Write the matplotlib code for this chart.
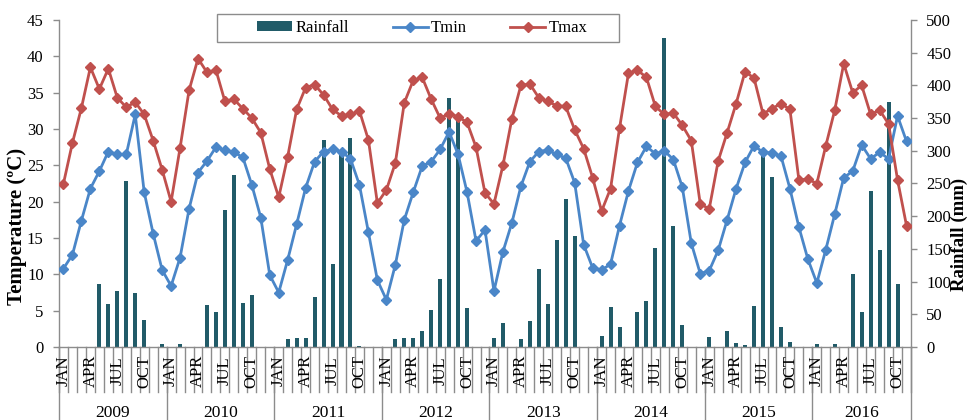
import numpy as np
import matplotlib
matplotlib.use("Agg")
import matplotlib.pyplot as plt
from matplotlib.patches import Patch, Rectangle
from matplotlib.lines import Line2D

plt.rcParams['font.family'] = ['Liberation Serif', 'DejaVu Serif']

years = ["2009", "2010", "2011", "2012", "2013", "2014", "2015", "2016"]
months = ["JAN", "FEB", "MAR", "APR", "MAY", "JUN", "JUL", "AUG", "SEP", "OCT", "NOV", "DEC"]
months_per_year = [12, 12, 12, 12, 12, 12, 12, 11]
shown_months = ["JAN", "APR", "JUL", "OCT"]

tmax = [
    22.5, 28.1, 32.9, 38.5, 35.5, 38.3, 34.3, 33.0, 33.7, 32.0, 28.4, 24.4,
    20.0, 27.4, 35.3, 39.7, 37.8, 38.1, 33.8, 34.1, 32.8, 31.5, 29.5, 24.5,
    20.6, 26.2, 32.7, 35.7, 36.1, 34.7, 32.7, 31.8, 32.0, 32.5, 28.5, 19.8,
    21.6, 25.3, 33.6, 36.7, 37.1, 34.1, 31.5, 32.1, 31.7, 30.9, 27.5, 21.2,
    19.7, 25.0, 31.4, 36.0, 36.2, 34.3, 33.8, 33.2, 33.1, 29.9, 27.3, 23.3,
    18.7, 21.8, 30.1, 37.7, 38.1, 37.1, 33.1, 32.0, 32.2, 30.5, 28.4, 19.7,
    19.0, 25.6, 29.5, 33.5, 37.9, 37.0, 32.1, 32.8, 33.5, 32.7, 23.0, 23.1,
    22.5, 27.7, 32.6, 39.0, 35.0, 36.0, 32.0, 32.6, 30.7, 23.0, 16.7,
]

tmin = [
    10.8, 12.7, 17.4, 21.8, 24.2, 26.9, 26.5, 26.5, 32.0, 21.3, 15.6, 10.6,
    8.4, 12.3, 19.0, 24.0, 25.6, 27.5, 27.1, 26.8, 26.1, 22.3, 17.8, 9.9,
    7.5, 12.0, 16.9, 21.9, 25.5, 26.9, 27.2, 26.9, 25.9, 22.3, 15.8, 9.2,
    6.5, 11.3, 17.5, 21.3, 24.9, 25.5, 27.2, 29.6, 26.5, 21.3, 14.6, 16.1,
    7.7, 13.1, 17.1, 22.1, 25.5, 26.9, 27.1, 26.5, 26.0, 22.6, 14.1, 10.9,
    10.6, 11.4, 16.7, 21.5, 25.4, 27.6, 26.6, 27.0, 25.8, 22.0, 14.3, 10.1,
    10.5, 13.3, 17.5, 21.8, 25.4, 27.7, 26.8, 26.7, 26.3, 21.8, 16.5, 12.1,
    8.8, 13.4, 18.3, 23.3, 24.2, 27.8, 25.9, 26.8, 25.9, 31.8, 28.3,
]

rainfall = [
    0, 0, 0, 0, 96, 66, 85, 254, 82, 41, 0, 5,
    0, 4, 0, 0, 64, 54, 210, 263, 67, 79, 0, 0,
    0, 12, 13, 14, 77, 317, 127, 296, 320, 1, 0, 0,
    0, 12, 13, 14, 25, 57, 104, 380, 346, 60, 0, 0,
    14, 36, 0, 12, 40, 120, 65, 164, 227, 169, 0, 0,
    17, 61, 30, 0, 54, 71, 152, 473, 185, 34, 0, 0,
    15, 0, 25, 6, 3, 63, 297, 260, 30, 8, 0, 0,
    4, 0, 4, 0, 112, 54, 238, 148, 375, 97, 0,
]

month_labels = []
year_of = []
for y, nm in zip(years, months_per_year):
    for m in months[:nm]:
        month_labels.append(m)
        year_of.append(y)

n = len(month_labels)
x = np.arange(n)

c_rain = '#215B68'
c_tmin = '#4A86C8'
c_tmax = '#C0504D'
c_axis = '#8C8C8C'

fig = plt.figure(figsize=(9.68, 4.2), dpi=100)
ax = fig.add_axes([59/968, 73/420, 852/968, 327/420])
ax2 = ax.twinx()

ax2.bar(x, rainfall, width=0.45, color=c_rain, zorder=2)
ax.plot(x, tmin, color=c_tmin, lw=2.0, marker='D', ms=5, zorder=3)
ax.plot(x, tmax, color=c_tmax, lw=2.0, marker='D', ms=5, zorder=4)

ax.set_zorder(ax2.get_zorder() + 1)
ax.patch.set_visible(False)

ax.set_xlim(-0.5, n - 0.5)
ax.set_ylim(0, 45)
ax.set_yticks(np.arange(0, 46, 5))
ax2.set_ylim(0, 500)
ax2.set_yticks(np.arange(0, 501, 50))

for a in (ax, ax2):
    a.spines['top'].set_visible(False)
    for s in a.spines.values():
        s.set_color(c_axis)
        s.set_linewidth(1.0)
ax.spines['right'].set_visible(False)
ax2.spines['left'].set_visible(False)
ax2.spines['bottom'].set_visible(False)

ax.tick_params(axis='y', direction='out', length=4, width=1, color=c_axis,
               labelsize=12, pad=7)
ax2.tick_params(axis='y', direction='out', length=4, width=1, color=c_axis,
                labelsize=12, pad=7)
ax.set_xticks([])
ax2.set_xticks([])

# Multi-level category axis
tr = ax.get_xaxis_transform()
ax_h = 327.0
for b in np.arange(n + 1) - 0.5:
    ax.plot([b, b], [0, -45 / ax_h], transform=tr, color=c_axis, lw=1.0,
            clip_on=False, zorder=1)
for i, lab in enumerate(month_labels):
    if lab in shown_months:
        ax.text(i, -24 / ax_h, lab, transform=tr, rotation=90, ha='center',
                va='center', fontsize=12)

start = 0
bounds = [-0.5]
for y, nm in zip(years, months_per_year):
    center = start + (nm - 1) / 2.0
    ax.text(center, -66 / ax_h, y, transform=tr, ha='center', va='center',
            fontsize=12.5)
    start += nm
    bounds.append(start - 0.5)
for b in bounds:
    ax.plot([b, b], [0, -75 / ax_h], transform=tr, color=c_axis, lw=1.0,
            clip_on=False, zorder=1)

fig.text(17.5 / 968, 1 - 226 / 420, 'Temperature (ºC)', rotation=90,
         ha='center', va='center', fontsize=15, fontweight='bold')
fig.text(959.5 / 968, 1 - 234 / 420, 'Rainfall (mm)', rotation=90,
         ha='center', va='center', fontsize=13.5, fontweight='bold')

# Legend frame (wider than its content, as in the reference)
frame = Rectangle(((217 - 59) / 852, (347 - 42) / 327), 402 / 852, 28 / 327,
                  transform=ax.transAxes, facecolor='white', edgecolor=c_axis,
                  lw=1.0, clip_on=False, zorder=8)
ax.add_patch(frame)

handles = [
    Patch(facecolor=c_rain, edgecolor='none'),
    Line2D([], [], color=c_tmin, lw=2.0, marker='D', ms=5),
    Line2D([], [], color=c_tmax, lw=2.0, marker='D', ms=5),
]
leg = ax.legend(handles, ['Rainfall', 'Tmin', 'Tmax'], ncol=3, loc='center',
                bbox_to_anchor=(0.4265, (347 - 28) / 327), fontsize=12,
                frameon=False, numpoints=1,
                handlelength=2.1, handleheight=0.5, handletextpad=0.2,
                columnspacing=2.6, borderpad=0.2, borderaxespad=0)
leg.set_zorder(9)

fig.savefig('out.png', dpi=100)
